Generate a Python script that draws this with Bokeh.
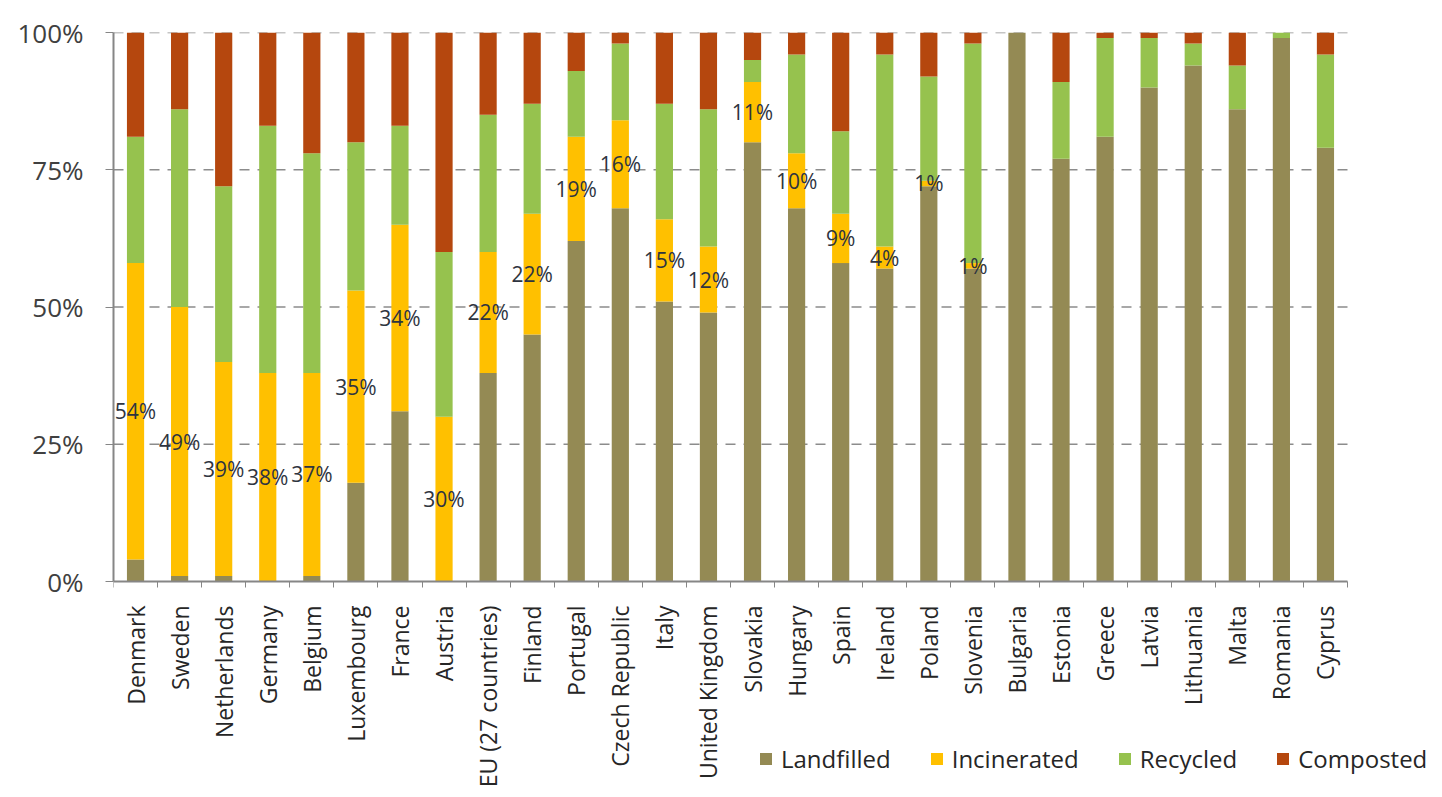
from bokeh.plotting import figure
from bokeh.models import (ColumnDataSource, Range1d, FixedTicker, CustomJSTickFormatter,
                          PrintfTickFormatter, Legend, LegendItem)
from bokeh.core.properties import value
from bokeh.embed import file_html
from bokeh.resources import INLINE

countries = ["Denmark", "Sweden", "Netherlands", "Germany", "Belgium", "Luxembourg", "France",
             "Austria", "EU (27 countries)", "Finland", "Portugal", "Czech Republic", "Italy",
             "United Kingdom", "Slovakia", "Hungary", "Spain", "Ireland", "Poland", "Slovenia",
             "Bulgaria", "Estonia", "Greece", "Latvia", "Lithuania", "Malta", "Romania", "Cyprus"]
landfilled = [4, 1, 1, 0, 1, 18, 31, 0, 38, 45, 62, 68, 51, 49, 80, 68, 58, 57, 72, 57,
              100, 77, 81, 90, 94, 86, 99, 79]
incinerated = [54, 49, 39, 38, 37, 35, 34, 30, 22, 22, 19, 16, 15, 12, 11, 10, 9, 4, 1, 1,
               0, 0, 0, 0, 0, 0, 0, 0]
recycled = [23, 36, 32, 45, 40, 27, 18, 30, 25, 20, 12, 14, 21, 25, 4, 18, 15, 35, 19, 40,
            0, 14, 18, 9, 4, 8, 1, 17]
composted = [19, 14, 28, 17, 22, 20, 17, 40, 15, 13, 7, 2, 13, 14, 5, 4, 18, 4, 8, 2,
             0, 9, 1, 1, 2, 6, 0, 4]
series = ["Landfilled", "Incinerated", "Recycled", "Composted"]
y_ticks = [0, 25, 50, 75, 100]

colors = ["#948A54", "#FFC000", "#96C24E", "#B5470E"]
FONT = "Open Sans"

n = len(countries)
xs = [i + 0.5 for i in range(n)]
src = ColumnDataSource(dict(x=xs, Landfilled=landfilled, Incinerated=incinerated,
                            Recycled=recycled, Composted=composted))

# frame covers the whole area right/below the axes so that the legend can sit there;
# y=0 at 581px, y=100 at 32px; the category axis spans 113..1347px
y_bottom = -(797 - 581) / (549 / 100)
x_right = n * (1442 - 113) / (1347 - 113)
p = figure(width=1442, height=797, output_backend="svg", toolbar_location=None,
           x_range=Range1d(0, x_right), y_range=Range1d(y_bottom, 100),
           min_border_left=113, min_border_right=0, min_border_top=32, min_border_bottom=0)
p.outline_line_color = None
p.background_fill_color = "white"
p.border_fill_color = "white"

# dashed horizontal gridlines limited to the category span
p.xgrid.grid_line_color = None
p.ygrid.grid_line_color = None
p.segment(x0=[0] * 4, x1=[n] * 4, y0=y_ticks[1:], y1=y_ticks[1:],
          line_color="#8C8C8C", line_dash="10 8", line_width=1.5)

rs = p.vbar_stack(series, x="x", width=0.39, source=src, color=colors, line_color=None)

# data labels for incinerated share
lab_x, lab_y, lab_t = [], [], []
for i in range(n):
    if incinerated[i] > 0:
        lab_x.append(xs[i])
        lab_y.append(landfilled[i] + incinerated[i] / 2)
        lab_t.append(f"{incinerated[i]}%")
p.text(x=lab_x, y=lab_y, text=lab_t, text_align="center", text_baseline="middle",
       text_font=value(FONT), text_font_size="21px", text_color="#2E3440")

# axes
xa = p.xaxis[0]
xa.fixed_location = 0
xa.bounds = (0, n)
xa.ticker = FixedTicker(ticks=xs, minor_ticks=list(range(n + 1)))
xa.formatter = CustomJSTickFormatter(args=dict(names=countries),
                                     code="return names[Math.floor(tick)];")
xa.major_label_orientation = 1.5708
xa.major_tick_line_color = None
xa.major_tick_out = 0
xa.major_tick_in = 0
xa.minor_tick_out = 6
xa.minor_tick_in = 0
xa.minor_tick_line_color = "#868686"
xa.axis_line_color = "#868686"
xa.axis_line_width = 2
xa.major_label_text_font = FONT
xa.major_label_text_font_size = "23px"
xa.major_label_text_color = "#262626"
xa.major_label_standoff = 18

ya = p.yaxis[0]
ya.bounds = (0, 100)
ya.ticker = FixedTicker(ticks=y_ticks, minor_ticks=[])
ya.formatter = PrintfTickFormatter(format="%d%%")
ya.axis_line_color = "#868686"
ya.axis_line_width = 2
ya.major_tick_line_color = "#868686"
ya.major_tick_out = 8
ya.major_tick_in = 0
ya.major_label_text_font = FONT
ya.major_label_text_font_size = "26px"
ya.major_label_text_color = "#404040"
ya.major_label_standoff = 22

legend = Legend(items=[LegendItem(label=s, renderers=[r]) for s, r in zip(series, rs)],
                orientation="horizontal", location=(645, 22),
                glyph_width=15, glyph_height=15, label_height=15, label_standoff=8,
                spacing=38, padding=0, margin=0,
                label_text_font=FONT, label_text_font_size="24px", label_text_color="#262626",
                border_line_color=None, background_fill_alpha=0)
p.add_layout(legend, "center")

open("out.html", "w").write(file_html(p, INLINE))
